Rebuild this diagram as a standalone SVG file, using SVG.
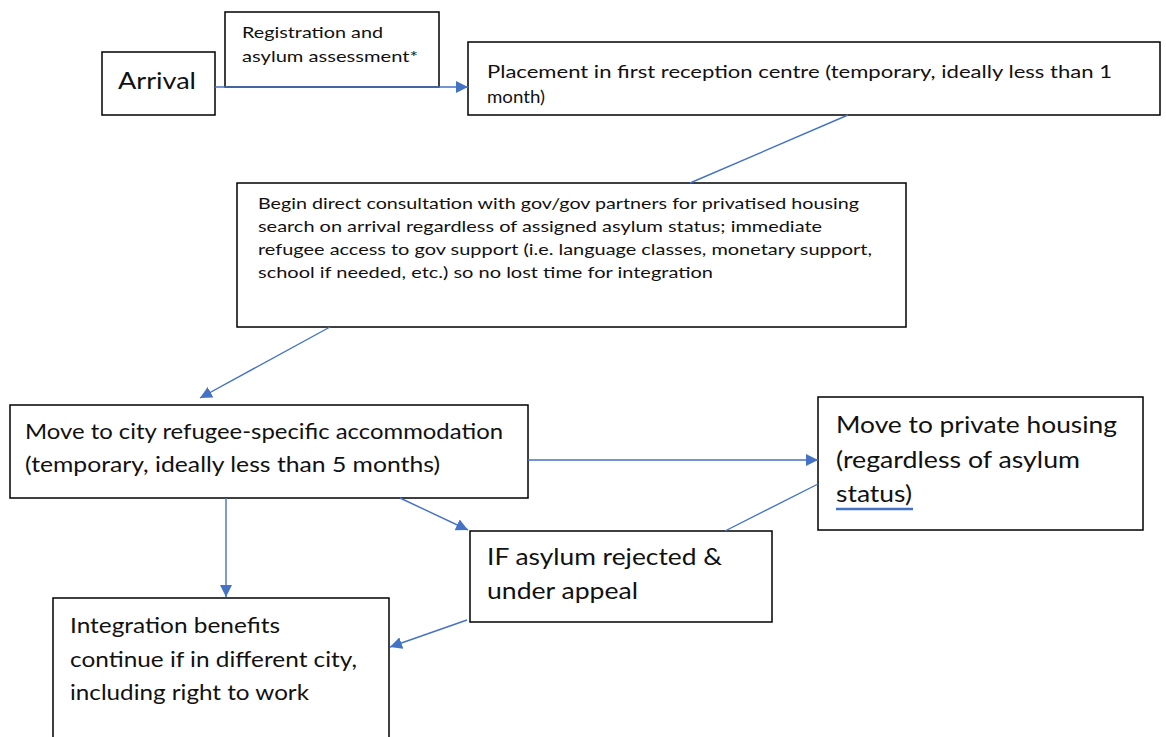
<svg xmlns="http://www.w3.org/2000/svg" width="1166" height="737" viewBox="0 0 1166 737">
<style>
.box{fill:#fff;stroke:#000;stroke-width:1.5}
.t{font-family:Lato,"Open Sans","Liberation Sans",sans-serif;fill:#111}
.c{stroke:#4472C4;stroke-width:1.4;fill:none}
</style>
<defs>
<marker id="ah" viewBox="0 0 12 12" refX="12" refY="6" markerWidth="12" markerHeight="12" markerUnits="userSpaceOnUse" orient="auto">
<path d="M0,0 L12,6 L0,12 z" fill="#4472C4"/>
</marker>
</defs>
<rect width="1166" height="737" fill="#fff"/>
<g id="registration">
<rect class="box" x="225" y="12" width="214" height="75"/>
<text class="t" font-size="16" x="242" y="38" textLength="141" lengthAdjust="spacingAndGlyphs">Registration and</text>
<text class="t" font-size="16" x="242" y="62" textLength="176" lengthAdjust="spacingAndGlyphs">asylum assessment*</text>
</g>
<g id="arrival">
<rect class="box" x="102" y="52" width="113" height="63"/>
<text class="t" font-size="24" x="118" y="89" textLength="78" lengthAdjust="spacingAndGlyphs">Arrival</text>
</g>
<g id="placement">
<rect class="box" x="468" y="42" width="692" height="73"/>
<text class="t" font-size="17" x="487" y="78" textLength="625" lengthAdjust="spacingAndGlyphs">Placement in first reception centre (temporary, ideally less than 1</text>
<text class="t" font-size="17" x="487" y="103" textLength="58" lengthAdjust="spacingAndGlyphs">month)</text>
</g>
<g id="consultation">
<rect class="box" x="237" y="183" width="669" height="144"/>
<text class="t" font-size="16" x="258" y="209" textLength="601" lengthAdjust="spacingAndGlyphs">Begin direct consultation with gov/gov partners for privatised housing</text>
<text class="t" font-size="16" x="258" y="232" textLength="564" lengthAdjust="spacingAndGlyphs">search on arrival regardless of assigned asylum status; immediate</text>
<text class="t" font-size="16" x="258" y="255" textLength="614" lengthAdjust="spacingAndGlyphs">refugee access to gov support (i.e. language classes, monetary support,</text>
<text class="t" font-size="16" x="258" y="278" textLength="455" lengthAdjust="spacingAndGlyphs">school if needed, etc.) so no lost time for integration</text>
</g>
<g id="city">
<rect class="box" x="10" y="405" width="518" height="93"/>
<text class="t" font-size="21" x="25" y="439" textLength="478" lengthAdjust="spacingAndGlyphs">Move to city refugee-specific accommodation</text>
<text class="t" font-size="21" x="25" y="472" textLength="415" lengthAdjust="spacingAndGlyphs">(temporary, ideally less than 5 months)</text>
</g>
<g id="private">
<rect class="box" x="818" y="397" width="325" height="133"/>
<text class="t" font-size="23" x="836" y="433" textLength="281" lengthAdjust="spacingAndGlyphs">Move to private housing</text>
<text class="t" font-size="23" x="836" y="468" textLength="244" lengthAdjust="spacingAndGlyphs">(regardless of asylum</text>
<text class="t" font-size="23" x="836" y="502" textLength="76" lengthAdjust="spacingAndGlyphs">status)</text>
<line x1="836" y1="509" x2="913" y2="509" stroke="#4472C4" stroke-width="2.5"/>
</g>
<g id="appeal">
<rect class="box" x="470" y="531" width="302" height="91"/>
<text class="t" font-size="23" x="487" y="565" textLength="235" lengthAdjust="spacingAndGlyphs">IF asylum rejected &amp;</text>
<text class="t" font-size="23" x="487" y="599" textLength="151" lengthAdjust="spacingAndGlyphs">under appeal</text>
</g>
<g id="integration">
<rect class="box" x="53" y="598" width="336" height="150"/>
<text class="t" font-size="21" x="70" y="633" textLength="210" lengthAdjust="spacingAndGlyphs">Integration benefits</text>
<text class="t" font-size="21" x="70" y="667" textLength="287" lengthAdjust="spacingAndGlyphs">continue if in different city,</text>
<text class="t" font-size="21" x="70" y="700" textLength="239" lengthAdjust="spacingAndGlyphs">including right to work</text>
</g>
<g id="connectors">
<line class="c" x1="215" y1="87" x2="468" y2="87" marker-end="url(#ah)"/>
<line class="c" x1="848" y1="115" x2="690" y2="183"/>
<line class="c" x1="330" y1="327" x2="200" y2="398" marker-end="url(#ah)"/>
<line class="c" x1="528" y1="460" x2="818" y2="460" marker-end="url(#ah)"/>
<line class="c" x1="818" y1="484" x2="725" y2="531"/>
<line class="c" x1="400" y1="498" x2="468" y2="530" marker-end="url(#ah)"/>
<line class="c" x1="226" y1="498" x2="226" y2="597" marker-end="url(#ah)"/>
<line class="c" x1="467" y1="620" x2="390" y2="647" marker-end="url(#ah)"/>
</g>
</svg>
